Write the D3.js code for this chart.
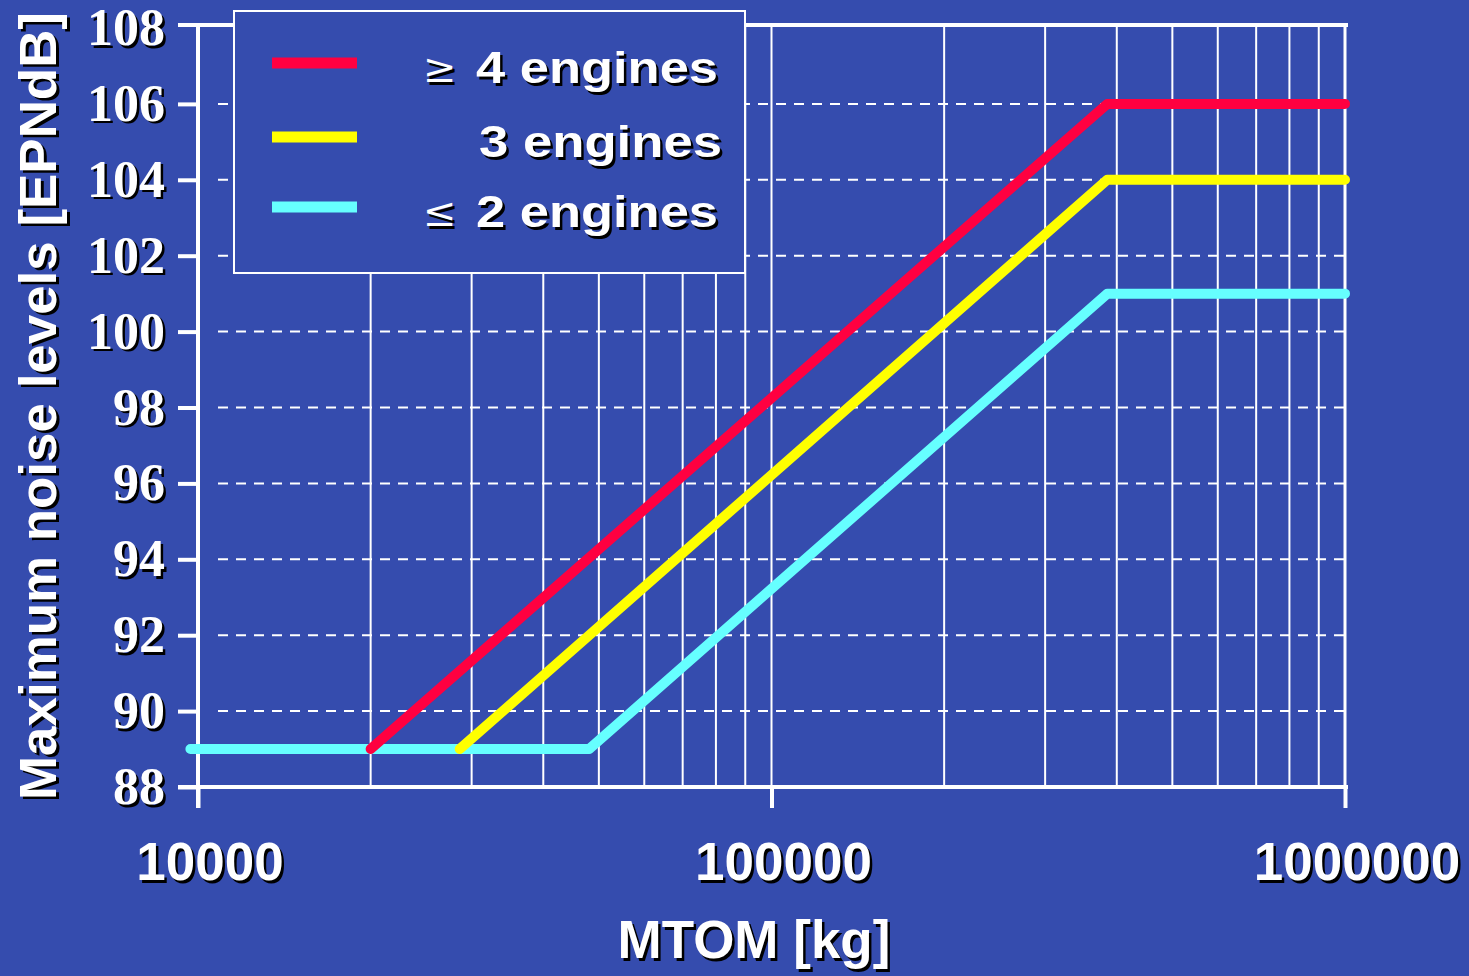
<!DOCTYPE html>
<html>
<head>
<meta charset="utf-8">
<script src="https://cdn.jsdelivr.net/npm/d3@7"></script>
<style>
  body { margin: 0; background: #354cae; }
  svg { display: block; }
</style>
</head>
<body>
<div id="container"></div>
<script>
/* DATA */
const seriesNames = ["4 engines", "3 engines", "2 engines"];
const seriesSymbols = ["\u2265", "", "\u2264"];
const seriesColors = ["#ff0040", "#ffff00", "#66ffff"];
// MTOM [kg] and noise limit [EPNdB] at the corner points of each line
const redMass = [20000, 385000, 1000000];
const redNoise = [89, 106, 106];
const yellowMass = [28600, 385000, 1000000];
const yellowNoise = [89, 104, 104];
const cyanMass = [9700, 48100, 385000, 1000000];
const cyanNoise = [89, 89, 101, 101];
const xTicks = [10000, 100000, 1000000];
const yTicks = [88, 90, 92, 94, 96, 98, 100, 102, 104, 106, 108];

/* CONSTANTS */
const width = 1469,
  height = 976,
  margin = { top: 28, bottom: 189, left: 198, right: 124 },
  bg = "#354cae";

const series = [
  { mass: redMass, noise: redNoise },
  { mass: yellowMass, noise: yellowNoise },
  { mass: cyanMass, noise: cyanNoise }
].map((s, i) => ({
  name: seriesNames[i],
  symbol: seriesSymbols[i],
  color: seriesColors[i],
  points: s.mass.map((m, j) => ({ mass: m, noise: s.noise[j] }))
}));

const svg = d3.select("#container")
  .append("svg")
  .attr("width", width)
  .attr("height", height);

svg.append("rect").attr("width", width).attr("height", height).attr("fill", bg);

// SCALES
const xScale = d3.scaleLog()
  .domain([10000, 1000000])
  .range([margin.left, width - margin.right]);

const yScale = d3.scaleLinear()
  .domain([88, 108])
  .range([height - margin.bottom, margin.top]);

const x0 = xScale.range()[0], x1 = xScale.range()[1];
const yB = yScale(88), yT = yScale(108) - 3;

// text with black drop shadow
function shadowText(g, x, y, str, opts) {
  const grp = g.append("g");
  [["#000", 2.5], ["#fff", 0]].forEach(([fill, off]) => {
    const t = grp.append("text")
      .attr("x", x + off)
      .attr("y", y + off)
      .attr("fill", fill)
      .attr("font-family", opts.family || "'Liberation Sans', Arial, sans-serif")
      .attr("font-weight", opts.weight || "bold")
      .attr("font-size", opts.size)
      .attr("text-anchor", opts.anchor || "start")
      .text(str);
    if (opts.length) t.attr("textLength", opts.length).attr("lengthAdjust", "spacingAndGlyphs");
    if (opts.rotate) t.attr("transform", `rotate(${opts.rotate}, ${x + off}, ${y + off})`);
  });
  return grp;
}

// GRID: minor vertical lines
const minor = [];
for (let d = 10000; d < 1000000; d *= 10) {
  for (let k = 1; k < 10; k++) minor.push(d * k);
}
svg.append("g")
  .selectAll("line")
  .data(minor.filter(v => v > 10000))
  .join("line")
  .attr("x1", d => xScale(d)).attr("x2", d => xScale(d))
  .attr("y1", yT).attr("y2", yB)
  .attr("stroke", "#fff")
  .attr("stroke-width", 2);

// dashed horizontal grid
svg.append("g")
  .selectAll("line")
  .data(yTicks.filter(v => v > 88 && v < 108))
  .join("line")
  .attr("x1", x0 + 20).attr("x2", x1)
  .attr("y1", d => yScale(d)).attr("y2", d => yScale(d))
  .attr("stroke", "#fff")
  .attr("stroke-width", 2)
  .attr("stroke-dasharray", "10,8");

// frame: right edge
svg.append("line")
  .attr("x1", x1).attr("x2", x1).attr("y1", yT).attr("y2", yB)
  .attr("stroke", "#fff").attr("stroke-width", 3);

// AXES
const yAxis = d3.axisLeft(yScale).tickValues(yTicks.filter(v => v < 108)).tickSize(20).tickFormat("");
svg.append("g")
  .attr("transform", `translate(${x0}, 0)`)
  .call(yAxis)
  .call(g => g.select(".domain").remove())
  .call(g => g.selectAll(".tick line").attr("stroke", "#fff").attr("stroke-width", 4));

const xAxis = d3.axisBottom(xScale).tickValues(xTicks).tickSize(21).tickFormat("");
svg.append("g")
  .attr("transform", `translate(0, ${yB})`)
  .call(xAxis)
  .call(g => g.select(".domain").remove())
  .call(g => g.selectAll(".tick line").attr("stroke", "#fff").attr("stroke-width", 4));

// axis lines
svg.append("line")
  .attr("x1", x0).attr("x2", x0).attr("y1", yT).attr("y2", yB + 21)
  .attr("stroke", "#fff").attr("stroke-width", 4);
svg.append("line")
  .attr("x1", x0 - 20).attr("x2", x1 + 3).attr("y1", yB).attr("y2", yB)
  .attr("stroke", "#fff").attr("stroke-width", 4);
svg.append("line")
  .attr("x1", x0 - 20).attr("x2", x1 + 3).attr("y1", yT).attr("y2", yT)
  .attr("stroke", "#fff").attr("stroke-width", 4);

// tick labels
yTicks.forEach(v => {
  shadowText(svg, 165, yScale(v) + 17, v, {
    family: "'Liberation Serif', 'Times New Roman', serif",
    size: 52, anchor: "end"
  });
});
xTicks.forEach(v => {
  shadowText(svg, xScale(v) + 12, 880, v, { size: 53, anchor: "middle" });
});

// axis titles
shadowText(svg, 754, 958, "MTOM [kg]", { size: 53, anchor: "middle" });
shadowText(svg, 56, 406, "Maximum noise levels [EPNdB]", {
  size: 52, anchor: "middle", rotate: -90, length: 788
});

// LINES
const lineFunction = d3.line()
  .x(d => xScale(d.mass))
  .y(d => yScale(d.noise));

svg.append("g")
  .selectAll("path")
  .data(series.slice().reverse())
  .join("path")
  .attr("fill", "none")
  .attr("stroke", d => d.color)
  .attr("stroke-width", 10)
  .attr("stroke-linecap", "round")
  .attr("stroke-linejoin", "round")
  .attr("d", d => lineFunction(d.points));

// LEGEND
const legend = svg.append("g");
legend.append("rect")
  .attr("x", 234).attr("y", 11)
  .attr("width", 511).attr("height", 262)
  .attr("fill", bg)
  .attr("stroke", "#fff")
  .attr("stroke-width", 2);

const rowY = [63, 137, 207];
series.forEach((s, i) => {
  legend.append("line")
    .attr("x1", 272).attr("x2", 357)
    .attr("y1", rowY[i]).attr("y2", rowY[i])
    .attr("stroke", s.color)
    .attr("stroke-width", 11);
  if (s.symbol) {
    shadowText(legend, 423, rowY[i] + 19, s.symbol, {
      family: "'DejaVu Serif', serif", weight: "normal", size: 40
    });
    shadowText(legend, 476, rowY[i] + 20, s.name, { size: 45, length: 242 });
  } else {
    shadowText(legend, 479, rowY[i] + 20, s.name, { size: 45, length: 243 });
  }
});
</script>
</body>
</html>
